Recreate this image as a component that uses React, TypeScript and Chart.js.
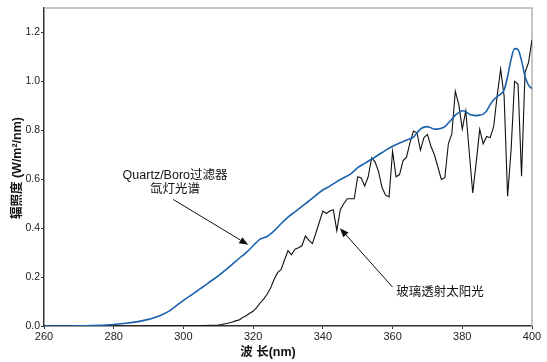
import { useEffect, useRef } from "react";
import { Chart, registerables } from "chart.js";

Chart.register(...registerables);

// Xenon lamp spectrum through the Quartz/Boro filter
const xenonWl = [
  260, 262, 264, 266, 268, 270, 272, 274, 276, 278, 280, 282, 284, 286, 288, 290,
  292, 294, 296, 298, 300, 302, 304, 306, 308, 310, 312, 314, 316, 318, 320, 322,
  324, 326, 328, 330, 332, 334, 336, 338, 340, 342, 344, 346, 348, 350, 352, 354,
  356, 358, 360, 362, 364, 366, 367, 368, 369, 370, 371, 372, 373, 374, 375, 376,
  377, 378, 379, 380, 381, 382, 383, 384, 385, 386, 387, 388, 389, 390, 391, 392,
  393, 394, 395, 396, 397, 398, 399, 400,
];
const xenonVals = [
  0.0, 0.0, 0.0, 0.0, 0.0, 0.001, 0.001, 0.002, 0.003, 0.004, 0.006, 0.009, 0.012, 0.016, 0.021, 0.027,
  0.036, 0.047, 0.062, 0.083, 0.105, 0.124, 0.144, 0.164, 0.185, 0.205, 0.228, 0.252, 0.277, 0.3, 0.328, 0.355,
  0.366, 0.389, 0.418, 0.445, 0.467, 0.489, 0.511, 0.534, 0.556, 0.572, 0.59, 0.606, 0.622, 0.647, 0.665, 0.682,
  0.7, 0.718, 0.735, 0.748, 0.76, 0.772, 0.79, 0.805, 0.813, 0.815, 0.81, 0.805, 0.805, 0.808, 0.815, 0.83,
  0.845, 0.862, 0.872, 0.88, 0.876, 0.866, 0.862, 0.86, 0.862, 0.866, 0.88, 0.905, 0.925, 0.938, 0.948, 0.965,
  1.02, 1.09, 1.134, 1.13, 1.085, 1.02, 0.985, 0.97,
];

// Sunlight transmitted through window glass
const sunWl = [
  260, 300, 302, 304, 306, 308, 310, 311, 312, 313, 314, 315, 316, 317, 318, 319,
  320, 321, 322, 323, 324, 325, 326, 327, 328, 329, 330, 331, 332, 333, 334, 335,
  336, 337, 338, 339, 340, 341, 342, 343, 344, 345, 346, 347, 348, 349, 350, 351,
  352, 353, 354, 355, 356, 357, 358, 359, 360, 361, 362, 363, 364, 365, 366, 367,
  368, 369, 370, 371, 372, 373, 374, 375, 376, 377, 378, 379, 380, 381, 382, 383,
  384, 385, 386, 387, 388, 389, 390, 391, 392, 393, 394, 395, 396, 397, 398, 399,
  400,
];
const sunVals = [
  0.0, 0.0, 0.0, 0.001, 0.002, 0.003, 0.004, 0.006, 0.009, 0.012, 0.016, 0.021, 0.025, 0.035, 0.042, 0.052,
  0.06, 0.075, 0.094, 0.11, 0.13, 0.155, 0.19, 0.218, 0.23, 0.27, 0.308, 0.291, 0.314, 0.32, 0.328, 0.368,
  0.35, 0.337, 0.38, 0.425, 0.47, 0.46, 0.47, 0.475, 0.39, 0.475, 0.5, 0.52, 0.52, 0.52, 0.61, 0.605,
  0.572, 0.61, 0.688, 0.67, 0.63, 0.565, 0.535, 0.528, 0.715, 0.61, 0.619, 0.675, 0.69, 0.75, 0.797, 0.79,
  0.719, 0.77, 0.783, 0.735, 0.7, 0.65, 0.599, 0.606, 0.745, 0.785, 0.96, 0.905, 0.805, 0.88, 0.71, 0.544,
  0.67, 0.804, 0.745, 0.775, 0.77, 0.815, 0.94, 1.05, 0.94, 0.53, 0.72, 1.0, 0.988, 0.612, 1.036, 1.077,
  1.17,
];

const xLabelStep = 20;
const yLabelStep = 0.2;

const xTitle = "波 长(nm)";
const yTitle = "辐照度 (W/m²/nm)";

// Callout texts with their text anchor and arrow ends, in data units
const callouts = [
  {
    lines: ["Quartz/Boro过滤器", "氙灯光谱"],
    at: [297.6, 0.615],
    from: [297.1, 0.517],
    to: [318.6, 0.332],
  },
  {
    lines: ["玻璃透射太阳光"],
    at: [373.6, 0.137],
    from: [360.0, 0.159],
    to: [344.9, 0.4],
  },
];

const FONT = "'Liberation Sans', Arial, 'Noto Sans CJK SC', sans-serif";

function drawArrow(ctx: CanvasRenderingContext2D, x0: number, y0: number, x1: number, y1: number) {
  const ang = Math.atan2(y1 - y0, x1 - x0);
  const headLen = 9;
  const headHalf = 3.5;
  const bx = x1 - headLen * Math.cos(ang);
  const by = y1 - headLen * Math.sin(ang);
  ctx.beginPath();
  ctx.moveTo(x0, y0);
  ctx.lineTo(bx, by);
  ctx.stroke();
  ctx.beginPath();
  ctx.moveTo(x1, y1);
  ctx.lineTo(bx + headHalf * Math.sin(ang), by - headHalf * Math.cos(ang));
  ctx.lineTo(bx - headHalf * Math.sin(ang), by + headHalf * Math.cos(ang));
  ctx.closePath();
  ctx.fill();
}

const framePlugin = {
  id: "frame",
  beforeDatasetsDraw(chart: any) {
    const { ctx, chartArea } = chart;
    ctx.save();
    ctx.strokeStyle = "#b4b4b4";
    ctx.lineWidth = 1.5;
    ctx.beginPath();
    ctx.moveTo(chartArea.left, chartArea.top);
    ctx.lineTo(chartArea.right, chartArea.top);
    ctx.lineTo(chartArea.right, chartArea.bottom);
    ctx.stroke();
    ctx.restore();
  },
  afterDraw(chart: any) {
    const { ctx, chartArea } = chart;
    const xs = chart.scales.x;
    const ys = chart.scales.y;
    ctx.save();
    ctx.fillStyle = "#111";
    ctx.strokeStyle = "#111";
    ctx.lineWidth = 1;

    // axis titles
    ctx.font = `bold 12.5px ${FONT}`;
    ctx.textAlign = "center";
    ctx.textBaseline = "middle";
    ctx.fillText(xTitle, (chartArea.left + chartArea.right) / 2 - 20, 353);
    ctx.save();
    ctx.translate(18, 168);
    ctx.rotate(-Math.PI / 2);
    ctx.fillText(yTitle, 0, 0);
    ctx.restore();

    // callouts
    ctx.font = `12.5px ${FONT}`;
    for (const c of callouts) {
      const tx = xs.getPixelForValue(c.at[0]);
      const ty = ys.getPixelForValue(c.at[1]);
      c.lines.forEach((line, i) => ctx.fillText(line, tx, ty + i * 14));
      drawArrow(
        ctx,
        xs.getPixelForValue(c.from[0]),
        ys.getPixelForValue(c.from[1]),
        xs.getPixelForValue(c.to[0]),
        ys.getPixelForValue(c.to[1])
      );
    }
    ctx.restore();
  },
};

export default function App() {
  const canvasRef = useRef<HTMLCanvasElement | null>(null);

  useEffect(() => {
    const canvas = canvasRef.current;
    if (!canvas) return;
    const chart = new Chart(canvas, {
      type: "line",
      data: {
        datasets: [
          {
            label: "Quartz/Boro过滤器氙灯光谱",
            data: xenonWl.map((x, i) => ({ x, y: xenonVals[i] })),
            borderColor: "#1b62ad",
            borderWidth: 1.6,
            pointRadius: 0,
            cubicInterpolationMode: "monotone",
            fill: false,
          },
          {
            label: "玻璃透射太阳光",
            data: sunWl.map((x, i) => ({ x, y: sunVals[i] })),
            borderColor: "#111111",
            borderWidth: 1.1,
            pointRadius: 0,
            tension: 0,
            fill: false,
          },
        ],
      },
      options: {
        animation: false,
        responsive: false,
        events: [],
        layout: { padding: { top: 8, right: 15, left: 0, bottom: 0 } },
        plugins: {
          legend: { display: false },
          tooltip: { enabled: false },
          title: { display: false },
        },
        scales: {
          x: {
            type: "linear",
            min: 260,
            max: 400,
            afterFit: (s: any) => {
              s.height = 36;
            },
            grid: {
              display: true,
              drawOnChartArea: false,
              drawTicks: true,
              tickLength: 3,
              color: "#333",
              lineWidth: 1,
            },
            border: { display: true, color: "#333", width: 1.5 },
            ticks: {
              stepSize: 10,
              autoSkip: false,
              maxRotation: 0,
              padding: 1,
              color: "#222",
              font: { family: FONT, size: 11 },
              callback: (v: any) => (Math.round(Number(v)) % xLabelStep === 0 ? String(v) : null),
            },
          },
          y: {
            type: "linear",
            min: 0,
            max: 1.3,
            afterFit: (s: any) => {
              s.width = 44;
            },
            grid: {
              display: true,
              drawOnChartArea: false,
              drawTicks: true,
              tickLength: 3,
              color: "#333",
              lineWidth: 1,
            },
            border: { display: true, color: "#333", width: 1.5 },
            ticks: {
              stepSize: 0.1,
              autoSkip: false,
              padding: 1,
              color: "#222",
              font: { family: FONT, size: 10.5 },
              callback: (v: any) => {
                const n = Math.round(Number(v) * 10);
                return n % Math.round(yLabelStep * 10) === 0 ? (n / 10).toFixed(1) : null;
              },
            },
          },
        },
      },
      plugins: [framePlugin],
    } as any);
    return () => chart.destroy();
  }, []);

  return (
    <div style={{ position: "absolute", left: 0, top: 0, width: 547, height: 362, background: "#fff" }}>
      <canvas ref={canvasRef} width={547} height={362} style={{ display: "block" }} />
    </div>
  );
}
